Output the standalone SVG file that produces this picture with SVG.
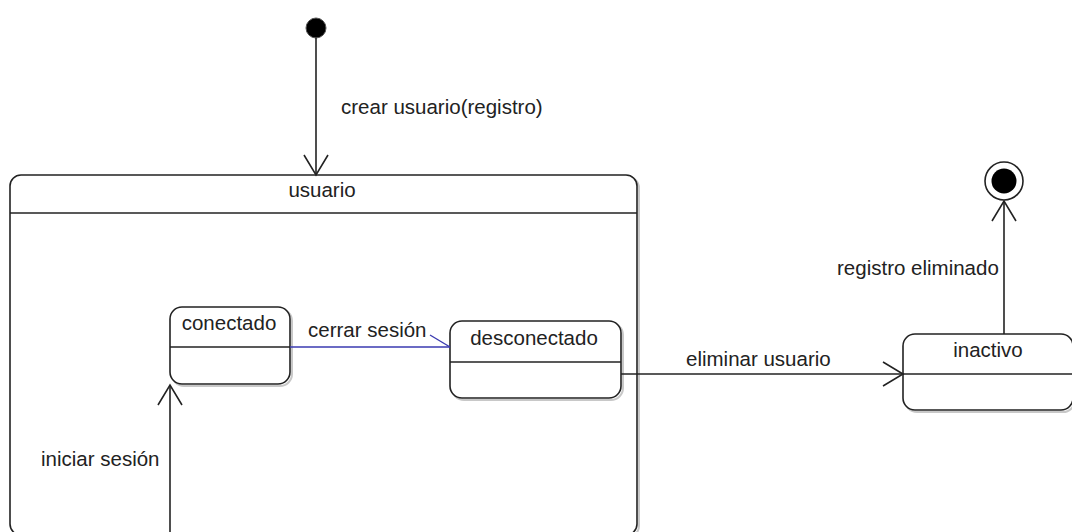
<svg xmlns="http://www.w3.org/2000/svg" width="1072" height="532" viewBox="0 0 1072 532">
<style>
text{font-family:"Liberation Sans",Arial,sans-serif;font-size:20.5px;fill:#222}
.box{fill:#fff;stroke:#222;stroke-width:1.6}
.shadow{fill:none;stroke:#c8c8c8;stroke-width:2}
.sep{stroke:#222;stroke-width:1.6}
.edge{fill:none;stroke:#222;stroke-width:1.6}
.blue{fill:none;stroke:#3a3ab0;stroke-width:1.4}
.mid{text-anchor:middle}
</style>
<defs>
<marker id="open" viewBox="-2 -14 24 28" refX="20" refY="0" markerWidth="24" markerHeight="28" markerUnits="userSpaceOnUse" orient="auto">
<path d="M0,-12 L20,0 L0,12" fill="none" stroke="#222" stroke-width="1.6"/>
</marker>
</defs>
<g id="usuario">
<rect class="shadow" x="12" y="177" width="627" height="360" rx="11"/>
<rect class="box" x="10" y="175" width="627" height="360" rx="11"/>
<line class="sep" x1="10" y1="213" x2="637" y2="213"/>
<text class="mid" x="322" y="197">usuario</text>
</g>
<g id="initial">
<circle cx="316" cy="28" r="10" fill="#000" stroke="#555" stroke-width="1"/>
</g>
<g id="conectado">
<rect class="shadow" x="172" y="309" width="120" height="77" rx="12"/>
<rect class="box" x="170" y="307" width="120" height="77" rx="12"/>
<line class="sep" x1="170" y1="347" x2="290" y2="347"/>
<text class="mid" x="229" y="330">conectado</text>
</g>
<g id="desconectado">
<rect class="shadow" x="452" y="323" width="171" height="77" rx="12"/>
<rect class="box" x="450" y="321" width="171" height="77" rx="12"/>
<line class="sep" x1="450" y1="362" x2="621" y2="362"/>
<text class="mid" x="534" y="345">desconectado</text>
</g>
<g id="inactivo">
<rect class="shadow" x="905" y="336" width="170" height="76" rx="12"/>
<rect class="box" x="903" y="334" width="170" height="76" rx="12"/>
<line class="sep" x1="903" y1="374" x2="1072" y2="374"/>
<text class="mid" x="988" y="357">inactivo</text>
</g>
<g id="final">
<circle cx="1004" cy="181" r="19" fill="#fff" stroke="#222" stroke-width="1.6"/>
<circle cx="1004" cy="181" r="12.5" fill="#000"/>
</g>
<g id="connectors">
<line class="edge" x1="316" y1="38" x2="316" y2="175" marker-end="url(#open)"/>
<text x="341" y="114">crear usuario(registro)</text>
<line class="blue" x1="290" y1="347" x2="450" y2="347"/>
<line class="blue" x1="430" y1="335" x2="450" y2="347"/>
<text x="308" y="337">cerrar sesión</text>
<line class="edge" x1="621" y1="374" x2="903" y2="374" marker-end="url(#open)"/>
<text x="686" y="366">eliminar usuario</text>
<line class="edge" x1="1004" y1="334" x2="1004" y2="201" marker-end="url(#open)"/>
<text x="837" y="275">registro eliminado</text>
<line class="edge" x1="170" y1="535" x2="170" y2="385" marker-end="url(#open)"/>
<text x="41" y="466">iniciar sesión</text>
</g>
</svg>
